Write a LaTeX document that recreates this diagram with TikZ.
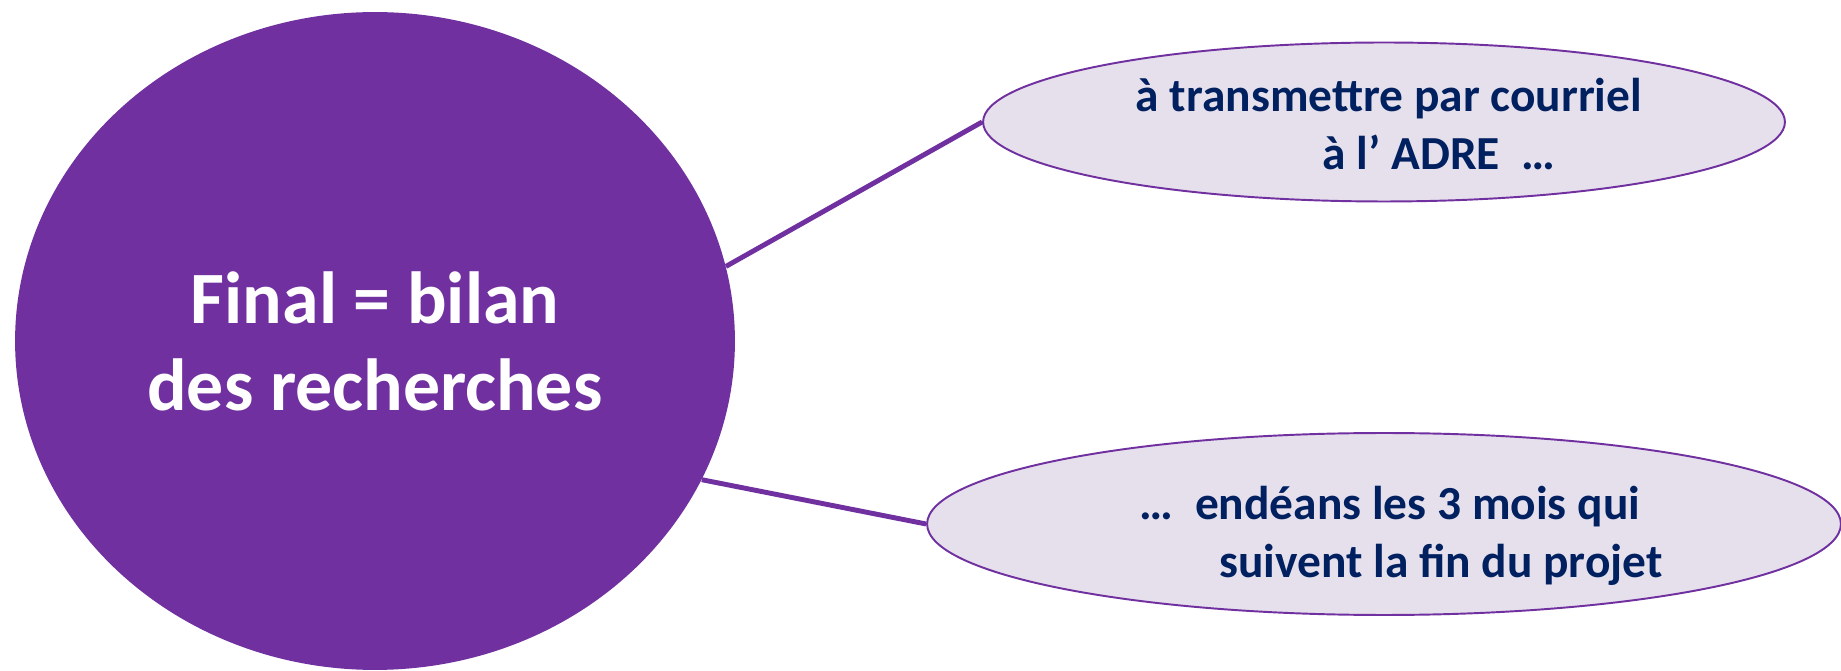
\documentclass[tikz,border=0pt]{standalone}
\usepackage{fontspec}
\setmainfont{Carlito}
\usetikzlibrary{shapes.geometric}
\definecolor{bilanpurple}{HTML}{7030A0}
\definecolor{bullefill}{HTML}{E6E0EC}
\definecolor{textnavy}{HTML}{002060}
\begin{document}
\begin{tikzpicture}[x=0.02cm,y=-0.02cm,
    bilan/.style={ellipse,fill=bilanpurple,inner sep=0pt,minimum width=14.4cm,minimum height=13.16cm},
    bulle/.style={ellipse,draw=bilanpurple,line width=1.1pt,fill=bullefill,inner sep=0pt},
    grostexte/.style={text=white,align=center,font=\fontsize{42}{49.5}\selectfont\bfseries},
    petittexte/.style={text=textnavy,align=center,font=\fontsize{27}{33}\selectfont\bfseries},
    lien/.style={draw=bilanpurple,line width=2.8pt}]
\useasboundingbox (0,0) rectangle (1841,671);
\node[bilan] (final) at (375,341) {};
\node[bulle,minimum width=16.04cm,minimum height=3.18cm] (courriel) at (1384,122) {};
\node[bulle,minimum width=18.28cm,minimum height=3.64cm] (delai) at (1384,524) {};
\draw[lien] (final.12) -- (courriel.west);
\draw[lien] (final.337) -- (delai.west);
\node[grostexte] (finaltxt) at (final.center) {Final = bilan\\des recherches};
\node[petittexte] (courrieltxt) at (1389,124) {à transmettre par courriel\\\hspace*{2cm}à l’ ADRE~~…};
\node[petittexte] (delaitxt) at (1390,536) {…~~endéans les 3 mois qui\\\hspace*{2.04cm}suivent la fin du projet};
\end{tikzpicture}
\end{document}
